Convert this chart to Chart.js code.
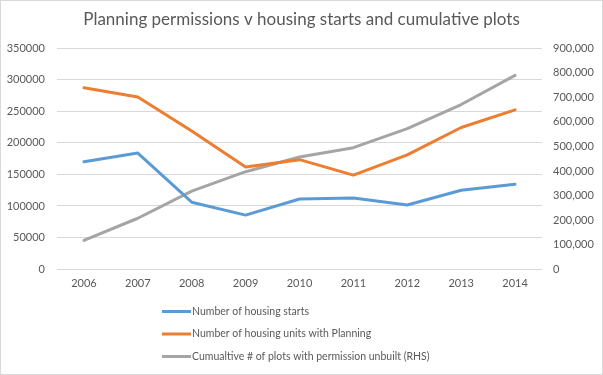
<!DOCTYPE html>
<html>
<head>
<meta charset="utf-8">
<script src="https://cdn.jsdelivr.net/npm/chart.js@4.4.1/dist/chart.umd.min.js"></script>
<style>
html,body{margin:0;padding:0;background:#fff;}
canvas{display:block;}
</style>
</head>
<body>
<canvas id="c" width="603" height="375"></canvas>
<script>
const years = ['2006','2007','2008','2009','2010','2011','2012','2013','2014'];
const housingStarts = [170000,184000,106000,85500,111000,112500,101500,125000,134500];
const unitsWithPlanning = [287500,273000,219000,162000,173500,149000,181000,224500,252500];
const cumulativeUnbuilt = [117000,207000,318000,397000,457000,495000,573000,671000,790000];
const seriesNames = ['Number of housing starts','Number of housing units with Planning','Cumualtive # of plots with permission unbuilt (RHS)'];
const titleText = 'Planning permissions v housing starts and cumulative plots';

const FONT = 'Lato, "Open Sans", sans-serif';
const TXT = '#595959';

const legendPlugin = {
  id: 'stackedLegend',
  afterDraw(chart) {
    const ctx = chart.ctx;
    ctx.save();
    chart.data.datasets.forEach((ds, i) => {
      const y = 311.5 + i * 22.5;
      ctx.strokeStyle = ds.borderColor;
      ctx.lineWidth = 3;
      ctx.lineCap = 'butt';
      ctx.beginPath();
      ctx.moveTo(162, y);
      ctx.lineTo(191, y);
      ctx.stroke();
      ctx.fillStyle = TXT;
      ctx.font = '10.5px ' + FONT;
      ctx.textBaseline = 'middle';
      ctx.textAlign = 'left';
      ctx.fillText(ds.label, 192, y);
    });
    ctx.strokeStyle = '#d9d9d9';
    ctx.lineWidth = 1;
    ctx.strokeRect(0.5, 0.5, chart.width - 1, chart.height - 1);
    ctx.restore();
  }
};

new Chart(document.getElementById('c'), {
  type: 'line',
  data: {
    labels: years,
    datasets: [
      {label: seriesNames[0], data: housingStarts, borderColor: '#5B9BD5', yAxisID: 'y'},
      {label: seriesNames[1], data: unitsWithPlanning, borderColor: '#ED7D31', yAxisID: 'y'},
      {label: seriesNames[2], data: cumulativeUnbuilt, borderColor: '#A5A5A5', yAxisID: 'y1'}
    ]
  },
  options: {
    responsive: false,
    animation: false,
    devicePixelRatio: 1,
    layout: {padding: 0},
    elements: {
      line: {borderWidth: 3, tension: 0, fill: false, borderCapStyle: 'round', borderJoinStyle: 'round'},
      point: {radius: 0, hoverRadius: 0}
    },
    plugins: {
      legend: {display: false},
      tooltip: {enabled: false},
      title: {
        display: true,
        text: titleText,
        color: TXT,
        font: {family: FONT, size: 17, weight: 'normal'},
        padding: {top: 9, bottom: 19}
      }
    },
    scales: {
      x: {
        offset: true,
        grid: {display: false, drawTicks: false},
        border: {display: false},
        ticks: {color: TXT, font: {family: FONT, size: 11}, padding: 8, maxRotation: 0},
        afterFit(s) { s.height = 106; }
      },
      y: {
        position: 'left',
        min: 0, max: 350000,
        grid: {color: '#d9d9d9', drawTicks: false},
        border: {display: false},
        ticks: {stepSize: 50000, color: TXT, font: {family: FONT, size: 11}, padding: 12, callback: v => String(v)},
        afterFit(s) { s.width = 57; }
      },
      y1: {
        position: 'right',
        min: 0, max: 900000,
        grid: {display: false, drawTicks: false},
        border: {display: false},
        ticks: {stepSize: 100000, color: TXT, font: {family: FONT, size: 11}, padding: 11, callback: v => v.toLocaleString('en-US')},
        afterFit(s) { s.width = 61; }
      }
    }
  },
  plugins: [legendPlugin]
});
</script>
</body>
</html>
